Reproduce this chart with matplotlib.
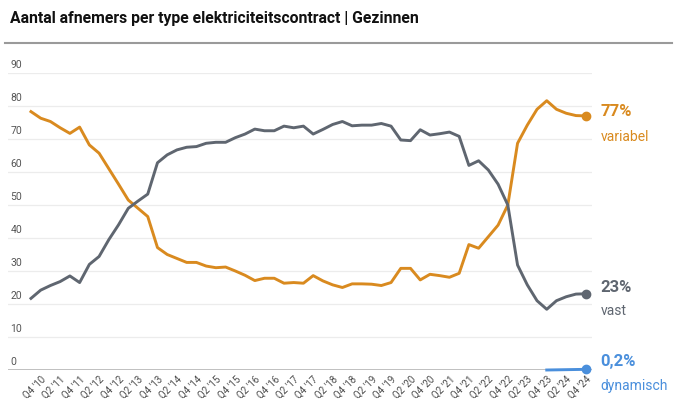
import numpy as np
import matplotlib.pyplot as plt
from matplotlib.lines import Line2D

plt.rcParams['font.family'] = ['Roboto', 'DejaVu Sans']

# kwartalen Q3 '10 t/m Q4 '24
kwartalen = [f"Q{q} '{j % 100:02d}" for j in range(2010, 2025) for q in range(1, 5)][2:]

variabel = [78.3, 76.3, 75.3, 73.4, 71.7, 73.6, 68.2, 65.7, 61.0, 56.3,
            51.5, 49.0, 46.5, 37.1, 35.0, 33.8, 32.6, 32.6, 31.5, 31.0,
            31.2, 30.0, 28.7, 27.1, 27.8, 27.8, 26.3, 26.5, 26.3, 28.6,
            27.0, 25.8, 25.0, 26.1, 26.1, 26.0, 25.6, 26.5, 30.8, 30.8,
            27.3, 29.0, 28.6, 28.1, 29.3, 38.0, 36.9, 40.4, 43.9, 50.0,
            68.7, 74.2, 79.0, 81.6, 79.0, 77.8, 77.1, 77.0]

vast = [21.7, 24.2, 25.6, 26.8, 28.5, 26.5, 32.0, 34.4, 39.5, 44.0,
        49.0, 51.2, 53.3, 62.8, 65.2, 66.7, 67.5, 67.7, 68.7, 69.0,
        69.0, 70.4, 71.5, 73.0, 72.5, 72.5, 73.9, 73.4, 73.9, 71.5,
        72.9, 74.4, 75.3, 74.0, 74.2, 74.2, 74.7, 73.9, 69.7, 69.5,
        72.8, 71.2, 71.6, 72.1, 70.8, 62.0, 63.4, 60.6, 56.3, 50.0,
        31.8, 25.8, 21.0, 18.4, 21.0, 22.2, 23.0, 23.1]

dynamisch = [np.nan] * 53 + [0.0, 0.05, 0.1, 0.15, 0.2]

y_ticks = [0, 10, 20, 30, 40, 50, 60, 70, 80, 90]

ORANJE = '#D98A1F'
GRIJS = '#5F6670'
BLAUW = '#4A8FDC'

fig = plt.figure(figsize=(6.78, 4.03), dpi=100)
ax = fig.add_axes([8 / 678, 33 / 403, 584 / 678, 297 / 403])
x = np.arange(len(kwartalen))
ax.set_xlim(-2.36, 57.65)
ax.set_ylim(0, 90)

for spine in ax.spines.values():
    spine.set_visible(False)

# rasterlijnen + labels boven de lijn
for v in y_ticks:
    if v == 0:
        ax.axhline(v, color='#b5b5b5', lw=1.2, zorder=1)
    else:
        ax.axhline(v, color='#ececec', lw=0.9, zorder=0)
    ax.annotate(str(v), xy=(0.004, v), xycoords=('axes fraction', 'data'),
                xytext=(0, 2.5), textcoords='offset points',
                ha='left', va='bottom', fontsize=7.5, color='#555555')

ax.set_yticks([])
ax.set_xticks(x[1::2])
ax.set_xticklabels(kwartalen[1::2], rotation=45, ha='right',
                   rotation_mode='anchor', fontsize=7, color='#4a4a4a')
ax.tick_params(axis='x', length=0, pad=3)

ax.plot(x, variabel, color=ORANJE, lw=2.1, solid_joinstyle='round', zorder=3)
ax.plot(x, vast, color=GRIJS, lw=2.1, solid_joinstyle='round', zorder=3)
ax.plot(x, dynamisch, color=BLAUW, lw=2.1, solid_joinstyle='round', zorder=3,
        clip_on=False)

eind = [(variabel, ORANJE, '77%', 'variabel', 3.0, -15.3),
        (vast, GRIJS, '23%', 'vast', 4.8, -12.2),
        (dynamisch, BLAUW, '0,2%', 'dynamisch', 5.5, -12.0)]
for reeks, kleur, pct, naam, dy1, dy2 in eind:
    ax.plot(x[-1], reeks[-1], 'o', color=kleur, ms=6, zorder=4, clip_on=False)
    ax.annotate(pct, xy=(x[-1], reeks[-1]), xytext=(10.8, dy1),
                textcoords='offset points', ha='left', va='center',
                fontsize=12, fontweight='bold', color=kleur, annotation_clip=False)
    ax.annotate(naam, xy=(x[-1], reeks[-1]), xytext=(10.8, dy2),
                textcoords='offset points', ha='left', va='center',
                fontsize=10, color=kleur, annotation_clip=False)

fig.text(10 / 678, 1 - 18 / 403,
         'Aantal afnemers per type elektriciteitscontract | Gezinnen',
         fontsize=11.3, fontweight='bold', va='center', ha='left', color='#111111')
fig.add_artist(Line2D([5 / 678, 672 / 678], [1 - 43 / 403, 1 - 43 / 403],
                      color='#9a9a9a', lw=1.5))

fig.savefig('out.png', dpi=100)
